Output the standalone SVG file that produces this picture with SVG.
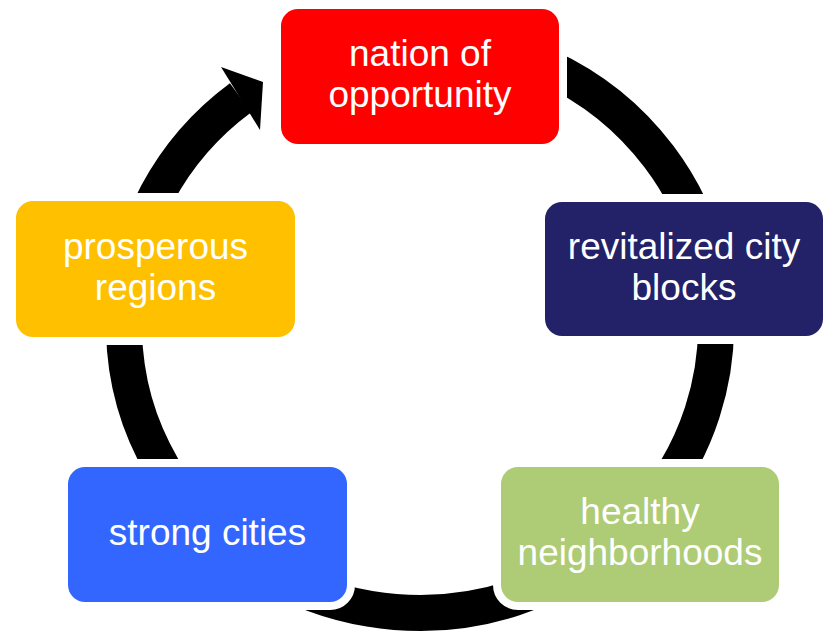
<svg xmlns="http://www.w3.org/2000/svg" width="825" height="632" viewBox="0 0 825 632">
<style>
.box { stroke:#ffffff; stroke-width:16; paint-order:stroke; }
.label { font-family:"Liberation Sans", Arial, sans-serif; font-size:37px; fill:#ffffff; text-anchor:middle; }
</style>
<rect x="0" y="0" width="825" height="632" fill="#ffffff"/>
<g id="connectors">
  <path d="M 240.6 97.7 A 296 287 0 1 0 420 39" fill="none" stroke="#000000" stroke-width="36"/>
  <polygon points="221,67 263,82 260,130" fill="#000000"/>
</g>
<g id="node-nation">
  <rect class="box" x="281" y="9" width="278" height="135" rx="17" fill="#FF0000"/>
  <text class="label" x="420" y="66">nation of</text>
  <text class="label" x="420" y="107">opportunity</text>
</g>
<g id="node-revitalized">
  <rect class="box" x="545" y="202" width="278" height="134" rx="17" fill="#232167"/>
  <text class="label" x="684" y="258.5">revitalized city</text>
  <text class="label" x="684" y="299.5">blocks</text>
</g>
<g id="node-healthy">
  <rect class="box" x="501" y="467" width="278" height="135" rx="17" fill="#AECB76"/>
  <text class="label" x="640" y="524">healthy</text>
  <text class="label" x="640" y="565">neighborhoods</text>
</g>
<g id="node-strong">
  <rect class="box" x="68" y="467" width="279" height="135" rx="17" fill="#3366FF"/>
  <text class="label" x="207.5" y="544.5">strong cities</text>
</g>
<g id="node-prosperous">
  <rect class="box" x="16" y="201" width="279" height="136" rx="17" fill="#FFC000"/>
  <text class="label" x="155.5" y="258.5">prosperous</text>
  <text class="label" x="155.5" y="299.5">regions</text>
</g>
</svg>
